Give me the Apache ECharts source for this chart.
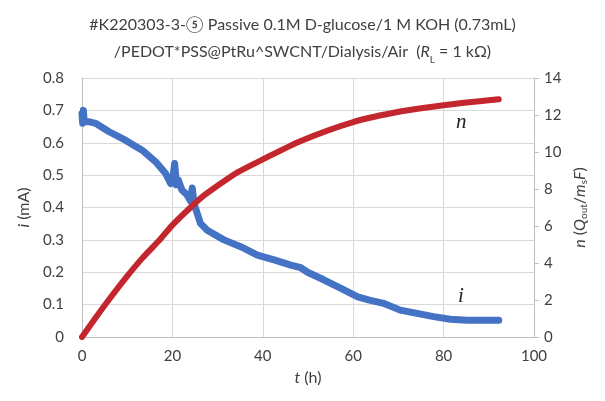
<!DOCTYPE html>
<html>
<head>
<meta charset="utf-8">
<script src="https://cdn.jsdelivr.net/npm/echarts@6/dist/echarts.min.js"></script>
<style>
  html, body { margin: 0; padding: 0; background: #fff; }
  #chart { width: 605px; height: 401px; }
</style>
</head>
<body>
<div id="chart"></div>
<script>
// current i (mA) vs time (h)
var tI = [0, 0.15, 0.3, 0.5, 1.5, 3, 6, 9.6, 13.3, 16.3, 18.5, 19.6, 20.1, 20.5, 20.9, 21.3, 22.1, 23.2, 24.0, 24.4, 24.8, 25.3, 26.2, 27.7, 31.4, 35.1, 38.8, 42.5, 46.2, 48.4, 49.9, 53.6, 57.3, 61, 63.6, 66.7, 70.4, 74.1, 77.8, 81.5, 85.2, 88.9, 92.2];
var iVals = [0.69, 0.66, 0.70, 0.665, 0.665, 0.66, 0.634, 0.608, 0.577, 0.541, 0.505, 0.474, 0.49, 0.536, 0.47, 0.485, 0.454, 0.44, 0.42, 0.46, 0.41, 0.39, 0.351, 0.330, 0.30, 0.279, 0.253, 0.238, 0.222, 0.214, 0.20, 0.176, 0.150, 0.124, 0.114, 0.104, 0.083, 0.073, 0.063, 0.055, 0.052, 0.052, 0.052];
// n (Q_out / m_s F) vs time (h)
var tN = [0, 2.9, 5.9, 9.6, 13.3, 17, 20, 24, 27, 31, 34.4, 40, 48.4, 60, 70.7, 80, 92.2];
var nVals = [0, 1.0, 2.0, 3.17, 4.25, 5.2, 6.05, 7.0, 7.65, 8.35, 8.9, 9.6, 10.6, 11.62, 12.2, 12.53, 12.85];

var xTicks = { min: 0, max: 100, step: 20 };
var iTicks = { min: 0, max: 0.8, step: 0.1 };
var nTicks = { min: 0, max: 14, step: 2 };

function pairs(xs, ys) {
  var out = [];
  for (var k = 0; k < xs.length; k++) out.push([xs[k], ys[k]]);
  return out;
}

var font = 'Lato, "Liberation Sans", sans-serif';
var txt = '#404040';
var it = { fontStyle: 'italic', fontFamily: font, fontSize: 16, color: txt };
var sub = { fontSize: 10, verticalAlign: 'bottom', fontFamily: font, color: txt };

var chart = echarts.init(document.getElementById('chart'));
chart.setOption({
  animation: false,
  backgroundColor: '#fff',
  title: {
    left: 'center',
    top: 6,
    text: '#K220303-3-⑤ Passive 0.1M D-glucose/1 M KOH (0.73mL)\n/PEDOT*PSS@PtRu^SWCNT/Dialysis/Air  ({it|R}{sub|L} = 1 kΩ)',
    textStyle: {
      fontFamily: font, fontSize: 16, fontWeight: 'normal', color: txt, lineHeight: 27,
      rich: { it: it, sub: sub }
    }
  },
  grid: { left: 82, right: 71, top: 78, bottom: 64 },
  xAxis: {
    type: 'value', min: xTicks.min, max: xTicks.max, interval: xTicks.step,
    name: '{it|t} (h)', nameLocation: 'middle', nameGap: 33,
    nameTextStyle: { fontFamily: font, fontSize: 16, color: txt, rich: { it: it } },
    axisLine: { lineStyle: { color: '#bfbfbf', width: 1 } },
    axisTick: { show: false },
    axisLabel: { fontFamily: font, fontSize: 15, color: txt, margin: 12 },
    splitLine: { lineStyle: { color: '#d9d9d9', width: 1 } }
  },
  yAxis: [{
    type: 'value', min: iTicks.min, max: iTicks.max, interval: iTicks.step,
    name: '{it|i} (mA)', nameLocation: 'middle', nameGap: 44, nameRotate: 90,
    nameTextStyle: { fontFamily: font, fontSize: 16, color: txt, rich: { it: it } },
    axisLine: { show: true, lineStyle: { color: '#bfbfbf', width: 1 } },
    axisTick: { show: false },
    axisLabel: { fontFamily: font, fontSize: 15, color: txt, margin: 18,
      formatter: function (v) { return v === 0 ? '0' : v.toFixed(1); } },
    splitLine: { lineStyle: { color: '#d9d9d9', width: 1 } }
  }, {
    type: 'value', min: nTicks.min, max: nTicks.max, interval: nTicks.step,
    name: '{it|n} ({it|Q}{sub|out}/{it|m}{sub|s}{it|F})', nameLocation: 'middle', nameGap: 36, nameRotate: 90,
    nameTextStyle: { fontFamily: font, fontSize: 16, color: txt, rich: { it: it, sub: sub } },
    axisLine: { show: true, lineStyle: { color: '#bfbfbf', width: 1 } },
    axisTick: { show: true, inside: false, length: 5, lineStyle: { color: '#bfbfbf' } },
    axisLabel: { fontFamily: font, fontSize: 15, color: txt, margin: 10 },
    splitLine: { show: false }
  }],
  series: [{
    name: 'i', type: 'line', yAxisIndex: 0, showSymbol: false, smooth: false,
    data: pairs(tI, iVals),
    lineStyle: { color: '#4472c4', width: 7, cap: 'round', join: 'round' },
    itemStyle: { color: '#4472c4' }, z: 2
  }, {
    name: 'n', type: 'line', yAxisIndex: 1, showSymbol: false, smooth: 0.25,
    data: pairs(tN, nVals),
    lineStyle: { color: '#c4262e', width: 6, cap: 'round', join: 'round' },
    itemStyle: { color: '#c4262e' }, z: 3
  }],
  graphic: [
    { type: 'text', left: 456, top: 112, style: { text: 'n', font: 'italic 21px "Liberation Serif", serif', fill: '#222' } },
    { type: 'text', left: 458, top: 286, style: { text: 'i', font: 'italic 21px "Liberation Serif", serif', fill: '#222' } }
  ]
});
</script>
</body>
</html>
